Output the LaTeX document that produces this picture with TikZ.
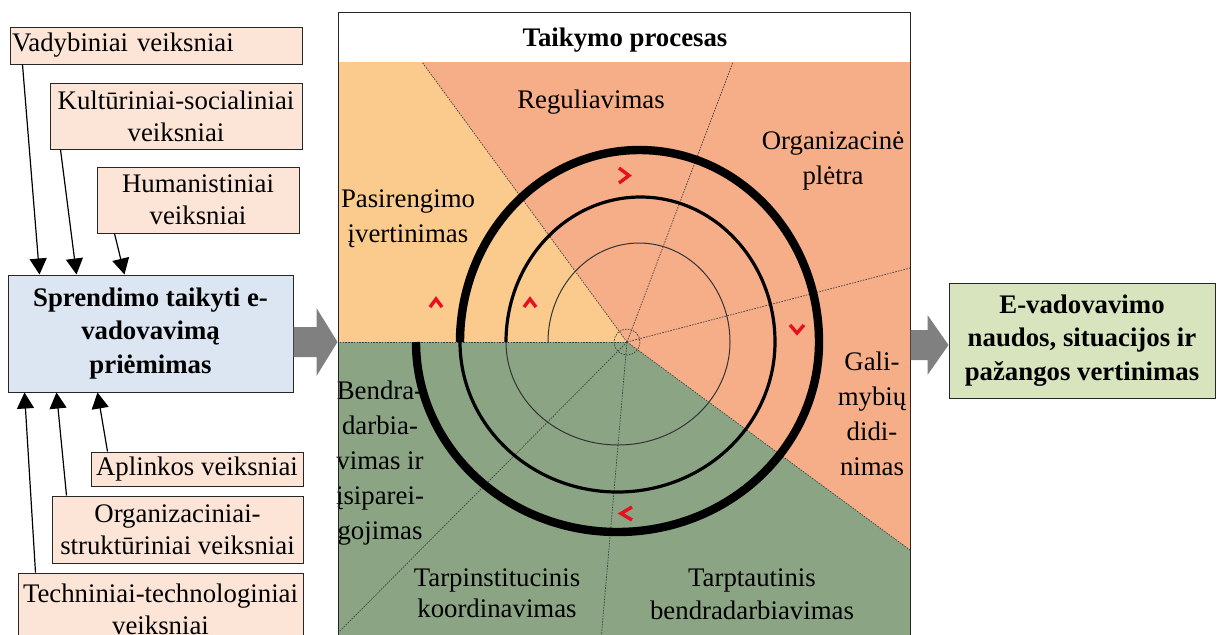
\documentclass[tikz,border=0pt]{standalone}
\usepackage{fontspec}
\setmainfont{Liberation Serif}
\usetikzlibrary{calc,arrows.meta}
\definecolor{factorfill}{RGB}{252,229,214}
\definecolor{decfill}{RGB}{220,230,242}
\definecolor{evalfill}{RGB}{215,228,189}
\definecolor{prepfill}{RGB}{250,203,140}
\definecolor{devfill}{RGB}{246,174,137}
\definecolor{coopfill}{RGB}{139,165,132}
\definecolor{chevred}{RGB}{232,16,32}
\tikzstyle{every node}=[font=\fontsize{13.4}{16}\selectfont]
\tikzstyle{factor}=[draw=black!85,fill=factorfill,line width=0.5pt,align=center,inner sep=1pt]
\tikzstyle{result}=[draw=black!85,line width=0.5pt,align=center,font=\fontsize{13.4}{16.6}\selectfont\bfseries]
\tikzstyle{factorarrow}=[-{Triangle[width=8.5pt,length=8pt]},line width=0.6pt]
\tikzstyle{blockarrow}=[fill=black!50]
\tikzstyle{ray}=[black!75,line width=0.35pt,dash pattern=on 0.8pt off 0.6pt]
\tikzstyle{phase}=[align=center,inner sep=0pt,font=\fontsize{13.4}{17.5}\selectfont]
\tikzstyle{chevron}=[chevred,line width=1.7pt]

\begin{document}
\begin{tikzpicture}[x=0.5pt,y=-0.5pt]
		\useasboundingbox (0,0) rectangle (1220,634);
		\clip (0,0) rectangle (1220,634);
		\coordinate (c) at (627,342);
		% sectors of the process panel
		\fill[prepfill] (338,62) -- (422,62) -- (c) -- (338,342) -- cycle;
		\fill[devfill]  (422,62) -- (910,62) -- (910,550) -- (c) -- cycle;
		\fill[coopfill] (338,342) -- (c) -- (910,550) -- (910,640) -- (338,640) -- cycle;
		\foreach \p in {(422,62),(733,62),(910,268),(910,550),(601,640),(338,633),(338,342)}
			\draw[ray] (c) -- \p;
		\draw[ray] (c) circle[radius=13];
		% spiral
		\draw[black!80,line width=0.5pt] (548,342) arc[start angle=180,end angle=360,x radius=91,y radius=99]
			arc[start angle=0,end angle=180,x radius=112,y radius=103];
		\draw[line width=1.6pt] (506,342) arc[start angle=180,end angle=360,x radius=134.5,y radius=145]
			arc[start angle=0,end angle=180,x radius=157.5,y radius=150];
		\draw[line width=4.2pt] (460,342) arc[start angle=180,end angle=360,x radius=179.5,y radius=192]
			arc[start angle=0,end angle=180,x radius=201.5,y radius=190];
		\draw[chevron] (619,168) -- (629,175.5) -- (619,183);
		\draw[chevron] (790,325) -- (797,333) -- (804,325);
		\draw[chevron] (632,507) -- (621,513.5) -- (632,520);
		\draw[chevron] (430,307) -- (436,299) -- (442,307);
		\draw[chevron] (524,307) -- (530,299) -- (536,307);
		% phase labels
		\node[phase,font=\fontsize{13.4}{16}\selectfont\bfseries] (title) at (625,40) {Taikymo procesas};
		\node[phase] (reg)  at (591,102) {Reguliavimas};
		\node[phase] (org)  at (833,161) {Organizacinė\\plėtra};
		\node[phase] (prep) at (408,219) {Pasirengimo\\įvertinimas};
		\node[phase] (cap)  at (872,414) {Gali-\\mybių\\didi-\\nimas};
		\node[phase] (comm) at (380,463) {Bendra-\\darbia-\\vimas ir\\įsiparei-\\gojimas};
		\node[phase,font=\fontsize{13.4}{15.5}\selectfont] (inst) at (497,593) {Tarpinstitucinis\\koordinavimas};
		\node[phase,font=\fontsize{13.4}{16.5}\selectfont] (intl) at (752,594) {Tarptautinis\\bendradarbiavimas};
		\node[draw=black!85,line width=0.5pt,minimum width=286pt,minimum height=314pt] (panel) at (624,326) {};
		% factors and decision
		\node[factor,text width=144pt,align=left,minimum height=18.5pt] (f_1) at (156,45.5) {Vadybiniai veiksniai};
		\node[factor,minimum width=126pt,minimum height=33pt] (f_2) at (176,116) {Kultūriniai-socialiniai\\veiksniai};
		\node[factor,minimum width=101pt,minimum height=33pt] (f_3) at (198,200) {Humanistiniai\\veiksniai};
		\node[result,fill=decfill,minimum width=142.5pt,minimum height=58.5pt] (dec) at (150.5,333.5) {Sprendimo taikyti e-\\vadovavimą\\priėmimas};
		\node[factor,minimum width=106pt,minimum height=17pt] (f_4) at (197,469) {Aplinkos veiksniai};
		\node[factor,minimum width=125.5pt,minimum height=33.5pt] (f_5) at (177.5,529.5) {Organizaciniai-\\struktūriniai veiksniai};
		\node[factor,minimum width=142.5pt,minimum height=36pt] (f_6) at (160.5,609) {Techniniai-technologiniai\\veiksniai};
		\node[result,fill=evalfill,minimum width=133pt,minimum height=57.5pt] (eval) at (1082,340.5) {E-vadovavimo\\naudos, situacijos ir\\pažangos vertinimas};
		\draw[factorarrow] ($(f_1.south west)+(13,0)$) -- ($(dec.north west)+(32,0)$);
		\draw[factorarrow] ($(f_2.south west)+(11,0)$) -- ($(dec.north west)+(69,0)$);
		\draw[factorarrow] ($(f_3.south west)+(18,0)$) -- ($(dec.north west)+(117,0)$);
		\draw[factorarrow] ($(f_4.north west)+(17,0)$) -- ($(dec.south west)+(90,0)$);
		\draw[factorarrow] ($(f_5.north west)+(15,0)$) -- ($(dec.south west)+(49,0)$);
		\draw[factorarrow] ($(f_6.north west)+(18,0)$) -- ($(dec.south west)+(17,0)$);
		% block arrows
		\coordinate (a_1) at (dec.east |- c);
		\coordinate (a_2) at (panel.west |- c);
		\fill[blockarrow] ($(a_1)+(0,-15)$) -- ($(a_2)+(-21,-15)$) -- ($(a_2)+(-21,-34)$) -- (a_2)
			-- ($(a_2)+(-21,34)$) -- ($(a_2)+(-21,15)$) -- ($(a_1)+(0,15)$) -- cycle;
		\coordinate (a_4) at ($(eval.west)+(0,4.5)$);
		\coordinate (a_3) at (panel.east |- a_4);
		\fill[blockarrow] ($(a_3)+(0,-15)$) -- ($(a_4)+(-21,-15)$) -- ($(a_4)+(-21,-30)$) -- (a_4)
			-- ($(a_4)+(-21,30)$) -- ($(a_4)+(-21,15)$) -- ($(a_3)+(0,15)$) -- cycle;
	\end{tikzpicture}
\end{document}
